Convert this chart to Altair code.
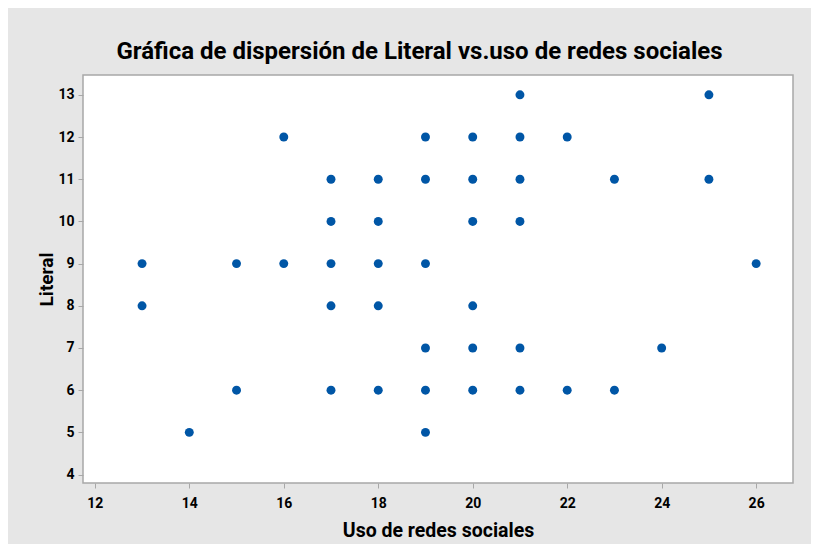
import altair as alt
import pandas as pd

# Data (Uso de redes sociales vs. Literal)
uso = [13, 13, 14, 15, 15, 16, 16,
       17, 17, 17, 17, 17,
       18, 18, 18, 18, 18,
       19, 19, 19, 19, 19, 19,
       20, 20, 20, 20, 20, 20,
       21, 21, 21, 21, 21, 21,
       22, 22, 23, 23, 24, 25, 25, 26]
literal = [9, 8, 5, 9, 6, 12, 9,
           11, 10, 9, 8, 6,
           11, 10, 9, 8, 6,
           12, 11, 9, 7, 6, 5,
           12, 11, 10, 8, 7, 6,
           13, 12, 11, 10, 7, 6,
           12, 6, 11, 6, 7, 13, 11, 9]

x_ticks = [12, 14, 16, 18, 20, 22, 24, 26]
y_ticks = [4, 5, 6, 7, 8, 9, 10, 11, 12, 13]

df = pd.DataFrame({"Uso de redes sociales": uso, "Literal": literal})

FONT = "Roboto"
GRID = "#a8a8a8"

chart = alt.Chart(df).mark_circle(size=80, opacity=1, color="#0056a6").encode(
    x=alt.X("Uso de redes sociales:Q",
            scale=alt.Scale(domain=[11.75, 26.78], nice=False, zero=False),
            axis=alt.Axis(values=x_ticks, grid=False, domain=False,
                          tickColor=GRID, tickSize=5, tickWidth=1,
                          labelFont=FONT, labelFontSize=14, labelFontWeight="bold",
                          labelColor="black", labelPadding=8,
                          title="Uso de redes sociales", titleFont=FONT,
                          titleFontSize=19.5, titleFontWeight="bold", titleColor="black",
                          titleBaseline="alphabetic", titleX=355, titleY=53)),
    y=alt.Y("Literal:Q",
            scale=alt.Scale(domain=[3.8, 13.47], nice=False, zero=False),
            axis=alt.Axis(values=y_ticks, grid=False, domain=False,
                          tickColor=GRID, tickSize=5, tickWidth=1,
                          labelFont=FONT, labelFontSize=14, labelFontWeight="bold",
                          labelColor="black", labelPadding=4,
                          title="Literal", titleFont=FONT,
                          titleFontSize=19, titleFontWeight="bold", titleColor="black",
                          titleBaseline="alphabetic", titleX=-31, titleY=204,
                          titleAngle=270)),
).properties(
    width=710,
    height=408,
    title=alt.TitleParams(
        "Gráfica de dispersión de Literal vs.uso de redes sociales",
        font=FONT, fontSize=24, fontWeight="bold", color="black",
        anchor="middle", frame="group", baseline="alphabetic",
        offset=12.7, dx=-18.5, dy=20.8),
    background="#e6e6e6",
    padding={"left": 75, "top": 67, "right": 18, "bottom": 61},
    autosize=alt.AutoSizeParams(type="none"),
).configure_view(
    stroke=GRID, strokeWidth=1.5, fill="white"
)

chart.save("out.html", embed_options={"renderer": "svg", "actions": False})
